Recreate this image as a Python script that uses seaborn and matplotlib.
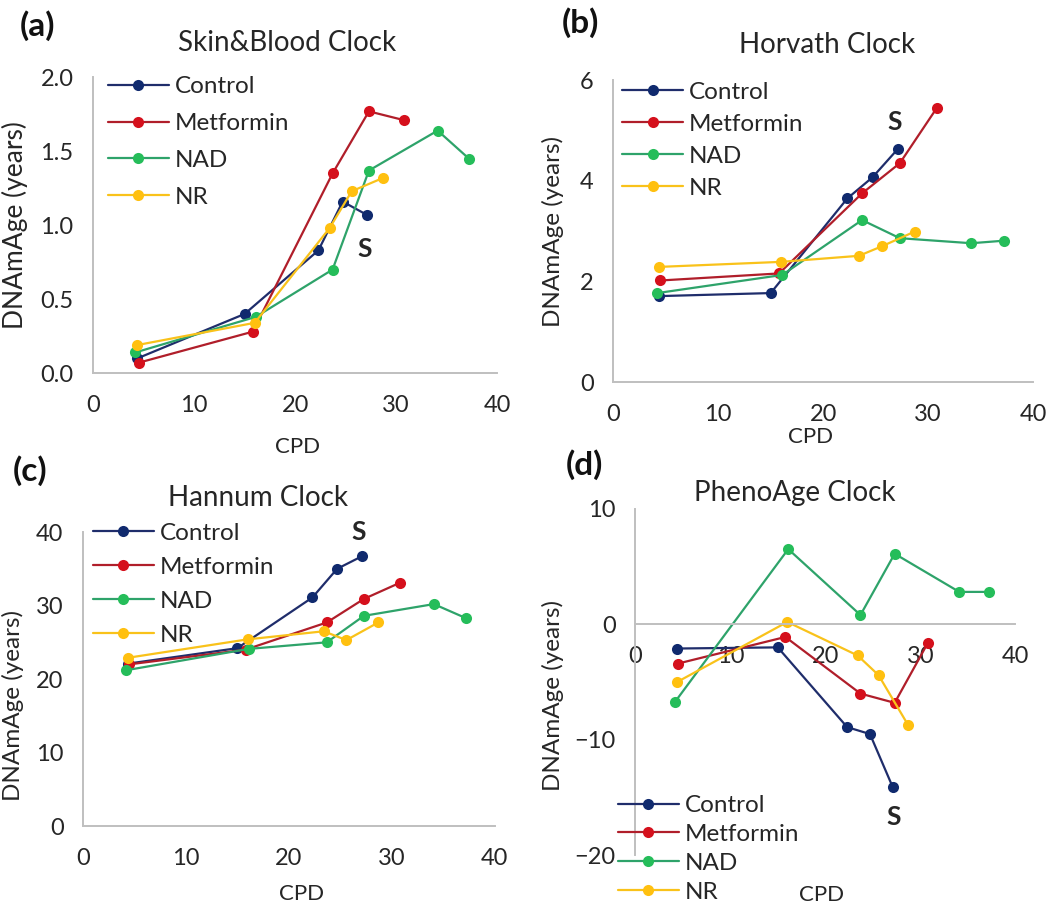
import matplotlib
matplotlib.use("Agg")
import matplotlib.pyplot as plt
import seaborn as sns
import pandas as pd

# ---------------- data ----------------
GROUPS = ["Control", "Metformin", "NAD", "NR"]

CTRL_CPD = [4.4, 15.0, 22.3, 24.7, 27.1]
MET_CPD = [4.5, 15.8, 23.7, 27.3, 30.8]
NAD_CPD = [4.2, 16.1, 23.7, 27.3, 34.1, 37.2]
NR_CPD = [4.4, 16.0, 23.4, 25.6, 28.7]

SB_CTRL = [0.10, 0.40, 0.83, 1.16, 1.07]
SB_MET = [0.07, 0.28, 1.35, 1.77, 1.71]
SB_NAD = [0.14, 0.38, 0.70, 1.37, 1.64, 1.45]
SB_NR = [0.19, 0.34, 0.98, 1.23, 1.32]

HV_CTRL = [1.71, 1.77, 3.65, 4.07, 4.63]
HV_MET = [2.02, 2.16, 3.75, 4.35, 5.44]
HV_NAD = [1.77, 2.13, 3.22, 2.86, 2.76, 2.81]
HV_NR = [2.29, 2.39, 2.51, 2.70, 2.99]

HN_CTRL = [22.1, 24.2, 31.1, 35.0, 36.7]
HN_MET = [22.0, 24.0, 27.7, 30.9, 33.1]
HN_NAD = [21.2, 24.1, 25.0, 28.6, 30.2, 28.3]
HN_NR = [22.9, 25.4, 26.5, 25.3, 27.7]

PH_CTRL = [-2.1, -2.0, -8.9, -9.5, -14.1]
PH_MET = [-3.4, -1.1, -6.0, -6.8, -1.6]
PH_NAD = [-6.7, 6.5, 0.8, 6.1, 2.8, 2.8]
PH_NR = [-5.0, 0.2, -2.7, -4.4, -8.7]

TITLES = ["Skin&Blood Clock", "Horvath Clock", "Hannum Clock", "PhenoAge Clock"]
PANEL_LABELS = ["(a)", "(b)", "(c)", "(d)"]
Y_TICKS = [[0.0, 0.5, 1.0, 1.5, 2.0], [0, 2, 4, 6], [0, 10, 20, 30, 40], [-20, -10, 0, 10]]
X_TICKS = [0, 10, 20, 30, 40]

LINE_COLORS = {"Control": "#1f2d6b", "Metformin": "#b01e2a", "NAD": "#2ea36a", "NR": "#f9c21a"}
MARKER_COLORS = {"Control": "#102a6e", "Metformin": "#d5101c", "NAD": "#25bd5a", "NR": "#ffc010"}

CPDS = [CTRL_CPD, MET_CPD, NAD_CPD, NR_CPD]
PANEL_VALUES = [
    [SB_CTRL, SB_MET, SB_NAD, SB_NR],
    [HV_CTRL, HV_MET, HV_NAD, HV_NR],
    [HN_CTRL, HN_MET, HN_NAD, HN_NR],
    [PH_CTRL, PH_MET, PH_NAD, PH_NR],
]


def make_df(values):
    rows = []
    for g, xs, ys in zip(GROUPS, CPDS, values):
        for x, y in zip(xs, ys):
            rows.append({"CPD": x, "DNAmAge": y, "Group": g})
    return pd.DataFrame(rows)


sns.set_theme(style="white")
plt.rcParams["font.family"] = ["Lato", "DejaVu Sans"]

fig = plt.figure(figsize=(10.5, 9.1), dpi=100)

# axes rectangles (fig fraction)
rects = [
    [0.0886, 0.590, 0.385, 0.325],
    [0.584, 0.580, 0.400, 0.332],
    [0.079, 0.0923, 0.392, 0.323],
    [0.605, 0.060, 0.362, 0.381],
]
ylims = [(0, 2.0), (0, 6), (0, 40), (-20, 10)]
title_pos = [(0.48, 1.115), (0.51, 1.116), (0.425, 1.116), (0.42, 1.046)]
ylabel_pos = [(-0.161, 0.5), (-0.117, 0.5), (-0.143, 0.41), (-0.187, 0.46)]
ylabel_size = [19, 17.5, 17.5, 17.5]
xlabel_pos = [(0.505, -0.216), (0.47, -0.149), (0.53, -0.197), (0.49, -0.084)]
legend_anchor = [((0.025, 1.02), "upper left"), ((0.01, 1.01), "upper left"),
                 ((0.012, 1.048), "upper left"), ((-0.058, -0.15), "lower left")]
legend_spacing = [0.65, 0.45, 0.53, 0.32]
s_pos = [(26.9, 0.84), (26.8, 5.17), (26.8, 40.0), (27.2, -16.7)]
panel_label_pos = [(0.036, 0.972), (0.553, 0.975), (0.029, 0.483), (0.557, 0.489)]

spine_color = "#bfbfbf"
text_color = "#262626"

for i in range(4):
    ax = fig.add_axes(rects[i])
    df = make_df(PANEL_VALUES[i])
    sns.lineplot(
        data=df, x="CPD", y="DNAmAge", hue="Group", hue_order=GROUPS,
        palette=LINE_COLORS, marker="o", markersize=8, markeredgewidth=0,
        linewidth=1.6, sort=False, estimator=None, legend=False, ax=ax,
    )
    for line, g in zip(ax.lines, GROUPS):
        line.set_markerfacecolor(MARKER_COLORS[g])
        line.set_markeredgecolor(MARKER_COLORS[g])

    ax.set_xlim(0, 40)
    ax.set_ylim(*ylims[i])
    ax.set_xticks(X_TICKS)
    ax.set_yticks(Y_TICKS[i])
    if i == 0:
        ax.set_yticklabels([f"{v:.1f}" for v in Y_TICKS[i]])
    ax.tick_params(axis="both", length=0, labelsize=17, colors=text_color)
    ax.tick_params(axis="x", pad=16)
    ax.tick_params(axis="y", pad=14)

    for s in ["top", "right"]:
        ax.spines[s].set_visible(False)
    for s in ["left", "bottom"]:
        ax.spines[s].set_color(spine_color)
        ax.spines[s].set_linewidth(1.4)
    if i == 3:
        ax.spines["bottom"].set_position(("data", 0))

    ax.set_xlabel("CPD", fontsize=16, color=text_color)
    ax.set_ylabel("DNAmAge (years)", fontsize=ylabel_size[i], color=text_color)
    ax.xaxis.set_label_coords(*xlabel_pos[i])
    ax.yaxis.set_label_coords(*ylabel_pos[i])

    ax.text(*title_pos[i], TITLES[i], transform=ax.transAxes, ha="center",
            va="center", fontsize=20, color=text_color)

    anchor, loc = legend_anchor[i]
    ax.legend(handles=ax.lines[:4], labels=GROUPS, loc=loc, bbox_to_anchor=anchor,
              frameon=False, fontsize=17.5, handlelength=2.5, handletextpad=0.25,
              labelspacing=legend_spacing[i], borderpad=0.2, borderaxespad=0,
              labelcolor=text_color)

    ax.text(*s_pos[i], "S", fontsize=19, fontweight="bold", color=text_color,
            ha="center", va="center")

    fig.text(*panel_label_pos[i], PANEL_LABELS[i], fontsize=24, fontweight="bold",
             ha="center", va="center", color="#111111")

fig.savefig("out.png", dpi=100)
